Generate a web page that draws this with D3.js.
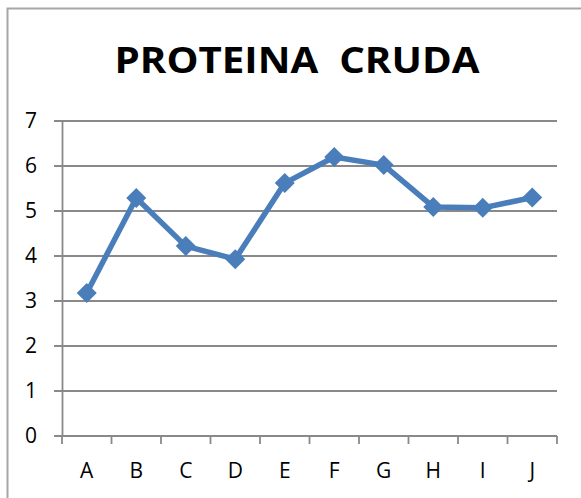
<!DOCTYPE html>
<html>
<head>
<meta charset="utf-8">
<script src="https://cdn.jsdelivr.net/npm/d3@7"></script>
<style>
  body { margin: 0; background: #fff; }
  svg { display: block; }
</style>
</head>
<body>
<script>
// datos
const categories = ['A', 'B', 'C', 'D', 'E', 'F', 'G', 'H', 'I', 'J'];
const values = [3.18, 5.29, 4.22, 3.93, 5.62, 6.2, 6.02, 5.09, 5.07, 5.3];
const yTicks = [0, 1, 2, 3, 4, 5, 6, 7];
const title = 'PROTEINA  CRUDA';

const w = 581, h = 498;
const plotLeft = 62, plotRight = 557, plotTop = 121, plotBottom = 436;

const svg = d3.select('body').append('svg')
  .attr('width', w)
  .attr('height', h);

// marco del grafico (recortado a la derecha y abajo)
svg.append('path')
  .attr('d', 'M7.5,' + h + 'V8.5H' + w)
  .attr('fill', 'none')
  .attr('stroke', '#a6a6a6')
  .attr('stroke-width', 2);

svg.append('text')
  .attr('x', 297)
  .attr('y', 73)
  .attr('text-anchor', 'middle')
  .attr('font-family', 'Open Sans')
  .attr('font-weight', 'bold')
  .attr('font-size', 35)
  .attr('textLength', 365)
  .attr('lengthAdjust', 'spacingAndGlyphs')
  .style('white-space', 'pre')
  .text(title);

const x = d3.scaleBand().domain(categories).range([plotLeft, plotRight]);
const y = d3.scaleLinear().domain([0, 7]).range([plotBottom, plotTop]);

// lineas de division horizontales
svg.append('g')
  .selectAll('line')
  .data(yTicks)
  .enter()
  .append('line')
  .attr('x1', plotLeft - 8)
  .attr('x2', plotRight)
  .attr('y1', d => y(d))
  .attr('y2', d => y(d))
  .attr('stroke', '#898989')
  .attr('stroke-width', 1.8);

const yAxis = d3.axisLeft(y).tickValues(yTicks).tickFormat(d3.format('d')).tickSize(0).tickPadding(25);
svg.append('g')
  .attr('transform', 'translate(' + plotLeft + ',0)')
  .call(yAxis)
  .call(g => g.select('.domain').attr('stroke', '#898989').attr('stroke-width', 1.8))
  .call(g => g.selectAll('text')
    .attr('font-family', 'Open Sans')
    .attr('font-size', 21)
    .attr('fill', '#000'));

// eje x con marcas en los limites de cada categoria
const xAxis = d3.axisBottom(x).tickSize(0).tickPadding(27);
svg.append('g')
  .attr('transform', 'translate(0,' + plotBottom + ')')
  .call(xAxis)
  .call(g => g.select('.domain').remove())
  .call(g => g.selectAll('text')
    .attr('font-family', 'Open Sans')
    .attr('font-size', 21)
    .attr('fill', '#000'));

svg.append('g')
  .selectAll('line')
  .data(categories.concat(['end']))
  .enter()
  .append('line')
  .attr('x1', (d, i) => i < categories.length ? x(d) : plotRight)
  .attr('x2', (d, i) => i < categories.length ? x(d) : plotRight)
  .attr('y1', plotBottom)
  .attr('y2', plotBottom + 8)
  .attr('stroke', '#898989')
  .attr('stroke-width', 1.8);

const cx = d => x(d) + x.bandwidth() / 2;

const line = d3.line()
  .x((d, i) => cx(categories[i]))
  .y(d => y(d));

svg.append('path')
  .datum(values)
  .attr('d', line)
  .attr('fill', 'none')
  .attr('stroke', '#4a7ebb')
  .attr('stroke-width', 5.5)
  .attr('stroke-linejoin', 'round');

svg.append('g')
  .selectAll('path')
  .data(values)
  .enter()
  .append('path')
  .attr('d', d3.symbol(d3.symbolSquare, 200))
  .attr('transform', (d, i) => 'translate(' + cx(categories[i]) + ',' + y(d) + ') rotate(45)')
  .attr('fill', '#4a7ebb');
</script>
</body>
</html>
